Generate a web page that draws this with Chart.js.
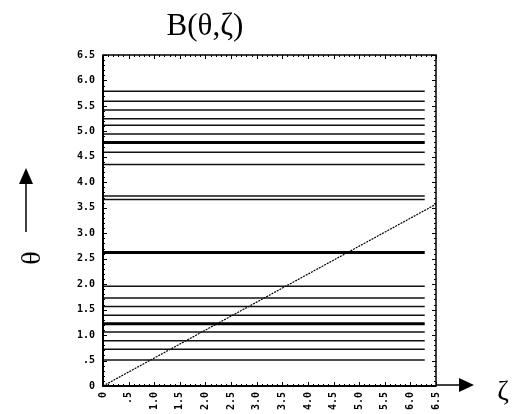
<!DOCTYPE html>
<html lang="en">
<head>
<meta charset="UTF-8">
<title>B(θ,ζ)</title>
<script src="https://cdn.jsdelivr.net/npm/chart.js@4.4.1/dist/chart.umd.min.js"></script>
<style>
  body { margin: 0; background: #fff; }
  canvas { display: block; }
</style>
</head>
<body>
<canvas id="bChart" width="512" height="414"></canvas>
<script>
// theta values of the constant-B contours, zeta runs 0..2pi
var thetaLevels = [0.51, 0.72, 0.89, 1.06, 1.22, 1.39, 1.56, 1.73, 1.96, 2.62,
                   3.66, 3.73, 4.35, 4.59, 4.78, 4.95, 5.12, 5.25, 5.42, 5.59, 5.79];
var heavyLevels = [1.22, 2.62, 4.78];
var zetaSpan = [0, 6.28];

// field line theta = iota * zeta
var fieldZeta = [0, 6.5];
var fieldTheta = [0, 3.57];

var tickLabels = ['0', '.5', '1.0', '1.5', '2.0', '2.5', '3.0', '3.5',
                  '4.0', '4.5', '5.0', '5.5', '6.0', '6.5'];

var datasets = [];
thetaLevels.forEach(function(th) {
  var heavy = heavyLevels.indexOf(th) >= 0;
  datasets.push({
    data: zetaSpan.map(function(z) { return {x: z, y: th}; }),
    borderColor: heavy ? '#000' : '#111',
    borderWidth: heavy ? 3 : 1.5,
    pointRadius: 0,
    showLine: true,
    tension: 0
  });
});
datasets.push({
  data: fieldZeta.map(function(z, i) { return {x: z, y: fieldTheta[i]}; }),
  borderColor: '#000',
  borderWidth: 1.2,
  borderDash: [2, 1],
  pointRadius: 0,
  showLine: true,
  tension: 0
});

function tickText(value) {
  return tickLabels[Math.round(value * 2)];
}

// frame, inward ticks, arrows and labels
var decorations = {
  id: 'decorations',
  afterDatasetsDraw: function(chart) {
    var ctx = chart.ctx;
    var a = chart.chartArea;
    var xs = chart.scales.x, ys = chart.scales.y;
    ctx.save();
    ctx.strokeStyle = '#000';
    ctx.lineWidth = 1.5;
    ctx.strokeRect(a.left, a.top, a.right - a.left, a.bottom - a.top);
    ctx.lineWidth = 2;
    ctx.beginPath();
    ctx.moveTo(a.left, a.top);
    ctx.lineTo(a.left, a.bottom);
    ctx.lineTo(a.right, a.bottom);
    ctx.stroke();

    ctx.lineWidth = 1;
    ctx.beginPath();
    for (var i = 0; i <= 65; i++) {
      var len = (i % 5 === 0) ? 4 : 2;
      var px = Math.round(xs.getPixelForValue(i / 10)) + 0.5;
      var py = Math.round(ys.getPixelForValue(i / 10)) + 0.5;
      ctx.moveTo(px, a.bottom); ctx.lineTo(px, a.bottom - len);
      ctx.moveTo(px, a.top); ctx.lineTo(px, a.top + len);
      ctx.moveTo(a.left, py); ctx.lineTo(a.left + len, py);
      ctx.moveTo(a.right, py); ctx.lineTo(a.right - len, py);
    }
    ctx.stroke();

    // theta arrow
    ctx.fillStyle = '#000';
    ctx.lineWidth = 1.5;
    ctx.beginPath();
    ctx.moveTo(26, 232); ctx.lineTo(26, 180);
    ctx.stroke();
    ctx.beginPath();
    ctx.moveTo(26, 168); ctx.lineTo(33, 184); ctx.lineTo(19, 184);
    ctx.closePath(); ctx.fill();

    // zeta arrow
    ctx.beginPath();
    ctx.moveTo(a.right, a.bottom - 1); ctx.lineTo(462, a.bottom - 1);
    ctx.stroke();
    ctx.beginPath();
    ctx.moveTo(474, a.bottom - 1); ctx.lineTo(459, a.bottom - 8); ctx.lineTo(459, a.bottom + 6);
    ctx.closePath(); ctx.fill();

    ctx.font = '31px "Liberation Serif"';
    ctx.textAlign = 'center';
    ctx.textBaseline = 'alphabetic';
    ctx.fillText('B(θ,ζ)', 205, 35);

    ctx.font = '28px "Liberation Serif"';
    ctx.fillText('ζ', 503, 400);

    ctx.translate(35, 258);
    ctx.rotate(-Math.PI / 2);
    ctx.textBaseline = 'middle';
    ctx.fillText('θ', 0, -2);
    ctx.restore();
  }
};

var tickFont = { family: 'DejaVu Sans Mono', size: 10, weight: 'bold' };

var config = {
  type: 'scatter',
  data: { datasets: datasets },
  options: {
    responsive: false,
    animation: false,
    layout: { padding: { left: 63, right: 76, top: 55, bottom: 0 } },
    plugins: {
      legend: { display: false },
      tooltip: { enabled: false }
    },
    scales: {
      x: {
        type: 'linear',
        min: 0,
        max: 6.5,
        afterFit: function(s) { s.height = 28; },
        grid: { display: false, drawTicks: false },
        border: { display: false },
        ticks: {
          stepSize: 0.5,
          autoSkip: false,
          minRotation: 90,
          maxRotation: 90,
          padding: 6,
          color: '#000',
          font: tickFont,
          callback: tickText
        }
      },
      y: {
        type: 'linear',
        min: 0,
        max: 6.5,
        afterFit: function(s) { s.width = 40; },
        grid: { display: false, drawTicks: false },
        border: { display: false },
        ticks: {
          stepSize: 0.5,
          autoSkip: false,
          padding: 8,
          color: '#000',
          font: tickFont,
          callback: tickText
        }
      }
    }
  },
  plugins: [decorations]
};

window.onload = function() {
  var ctx = document.getElementById('bChart').getContext('2d');
  window.bChart = new Chart(ctx, config);
};
</script>
</body>
</html>
